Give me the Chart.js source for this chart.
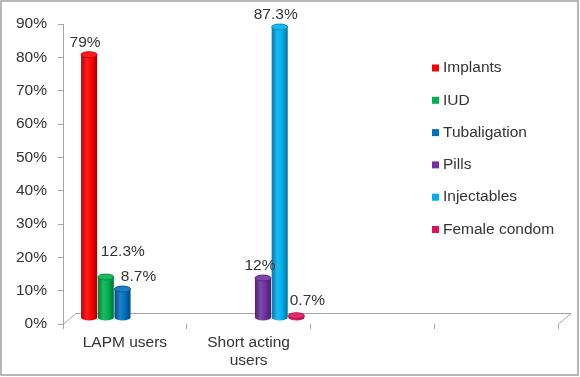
<!DOCTYPE html>
<html>
  <head>
    <title>Contraceptive method mix</title>
    <script src="https://cdn.jsdelivr.net/npm/chart.js@4.4.0/dist/chart.umd.min.js"></script>
    <style>
      body { margin: 0; background: #fff; }
      #wrap { width: 580px; height: 377px; position: relative; }
    </style>
  </head>

  <body>
    <div id="wrap">
      <canvas id="canvas" width="580" height="377"></canvas>
    </div>
    <script>
      // categories (the last two slots are empty in the original)
      const categories = ['LAPM users', ['Short acting', 'users'], '', ''];
      const methods = ['Implants', 'IUD', 'Tubaligation', 'Pills', 'Injectables', 'Female condom'];
      const colors = ['#FF0000', '#00B050', '#0070C0', '#7030A0', '#00B0F0', '#E0105E'];

      // values in percent, one array per method
      const implants = [79, null, null, null];
      const iud = [12.3, null, null, null];
      const tubaligation = [8.7, null, null, null];
      const pills = [null, 12, null, null];
      const injectables = [null, 87.3, null, null];
      const femaleCondom = [null, 0.7, null, null];

      const yTicks = [0, 10, 20, 30, 40, 50, 60, 70, 80, 90];

      const series = [implants, iud, tubaligation, pills, injectables, femaleCondom];
      const FONT = '15.5px "Liberation Sans", Arial, sans-serif';
      const TEXT = '#333333';
      const DEPTH = 6; // fake 3d depth offset

      function shade(hex, amt) {
        const n = parseInt(hex.slice(1), 16);
        let r = (n >> 16) & 255, g = (n >> 8) & 255, b = n & 255;
        const f = (c) => Math.round(amt < 0 ? c * (1 + amt) : c + (255 - c) * amt);
        return 'rgb(' + f(r) + ',' + f(g) + ',' + f(b) + ')';
      }

      function cylinder(ctx, cx, top, base, w, color) {
        const r = w / 2, ry = 3;
        const grad = ctx.createLinearGradient(cx - r, 0, cx + r, 0);
        grad.addColorStop(0, shade(color, -0.3));
        grad.addColorStop(0.35, shade(color, 0.12));
        grad.addColorStop(0.65, color);
        grad.addColorStop(1, shade(color, -0.35));
        ctx.beginPath();
        ctx.moveTo(cx - r, top);
        ctx.lineTo(cx - r, base);
        ctx.ellipse(cx, base, r, ry, 0, Math.PI, 0, true);
        ctx.lineTo(cx + r, top);
        ctx.ellipse(cx, top, r, ry, 0, 0, Math.PI, true);
        ctx.closePath();
        ctx.fillStyle = grad;
        ctx.fill();
        ctx.beginPath();
        ctx.ellipse(cx, top, r, ry, 0, 0, Math.PI * 2);
        ctx.fillStyle = shade(color, 0.1);
        ctx.fill();
        ctx.strokeStyle = shade(color, -0.25);
        ctx.lineWidth = 0.8;
        ctx.stroke();
      }

      // floor of the 3d plot
      const floorPlugin = {
        id: 'floor',
        beforeDatasetsDraw(chart) {
          const { ctx, chartArea: a } = chart;
          ctx.save();
          ctx.strokeStyle = '#a6a6a6';
          ctx.lineWidth = 1;
          ctx.beginPath();
          ctx.moveTo(a.left, a.bottom + 0.5);
          ctx.lineTo(a.left + 13, a.bottom - 10.5);
          ctx.lineTo(a.right + 13, a.bottom - 10.5);
          ctx.lineTo(a.right, a.bottom + 0.5);
          ctx.stroke();
          ctx.restore();
        }
      };

      // cylinders + value labels
      const labelShift = [[-4, 0], [17, -13], [16, 0], [-3, 0], [-4, 0], [11, -3]];
      const barsPlugin = {
        id: 'cylinders',
        afterDatasetsDraw(chart) {
          const ctx = chart.ctx;
          ctx.save();
          chart.data.datasets.forEach((ds, di) => {
            const meta = chart.getDatasetMeta(di);
            meta.data.forEach((el, i) => {
              const v = ds.data[i];
              if (v === null || v === undefined) return;
              const cx = el.x + DEPTH, top = el.y - DEPTH, base = el.base - DEPTH;
              cylinder(ctx, cx, top, base, el.width, colors[di]);
            });
          });
          ctx.font = FONT;
          ctx.fillStyle = TEXT;
          ctx.textAlign = 'center';
          ctx.textBaseline = 'middle';
          chart.data.datasets.forEach((ds, di) => {
            const meta = chart.getDatasetMeta(di);
            meta.data.forEach((el, i) => {
              const v = ds.data[i];
              if (v === null || v === undefined) return;
              const s = labelShift[di];
              ctx.fillText(v + '%', el.x + DEPTH + s[0], el.y - DEPTH - 12 + s[1]);
            });
          });
          ctx.restore();
        }
      };

      const legendPlugin = {
        id: 'sideLegend',
        afterDraw(chart) {
          const ctx = chart.ctx;
          ctx.save();
          ctx.font = FONT;
          ctx.textBaseline = 'middle';
          ctx.textAlign = 'left';
          methods.forEach((m, i) => {
            const y = 68 + i * 32.3;
            ctx.fillStyle = colors[i];
            ctx.fillRect(432, y - 3.5, 7, 7);
            ctx.fillStyle = TEXT;
            ctx.fillText(m, 443, y);
          });
          ctx.strokeStyle = '#a0a0a0';
          ctx.lineWidth = 1.5;
          ctx.strokeRect(1, 1, 577, 374);
          ctx.restore();
        }
      };

      window.onload = () => {
        const ctx = document.getElementById('canvas').getContext('2d');
        window.myBar = new Chart(ctx, {
          type: 'bar',
          data: {
            labels: categories,
            datasets: methods.map((m, i) => ({
              label: m,
              data: series[i],
              backgroundColor: 'rgba(0,0,0,0)',
              borderWidth: 0,
              categoryPercentage: 0.81,
              barPercentage: 0.96,
            })),
          },
          options: {
            responsive: false,
            animation: false,
            layout: { padding: { top: 24, right: 22, left: 0, bottom: 0 } },
            plugins: {
              legend: { display: false },
              tooltip: { enabled: false },
            },
            scales: {
              x: {
                afterFit: (s) => { s.height = 53; },
                grid: { drawOnChartArea: false, tickLength: 5, color: '#a6a6a6', offset: true },
                border: { display: false },
                ticks: { font: { family: '"Liberation Sans", Arial', size: 15.5 }, color: TEXT, padding: 4, maxRotation: 0, autoSkip: false },
              },
              y: {
                min: 0,
                max: 90,
                afterFit: (s) => { s.width = 63; },
                afterBuildTicks: (s) => { s.ticks = yTicks.map((v) => ({ value: v })); },
                grid: { drawOnChartArea: false, tickLength: 5, color: '#a6a6a6' },
                border: { color: '#a6a6a6' },
                ticks: { callback: (v) => v + '%', font: { family: '"Liberation Sans", Arial', size: 15.5 }, color: TEXT, padding: 11 },
              },
            },
          },
          plugins: [floorPlugin, barsPlugin, legendPlugin],
        });
      };
    </script>
  </body>
</html>
